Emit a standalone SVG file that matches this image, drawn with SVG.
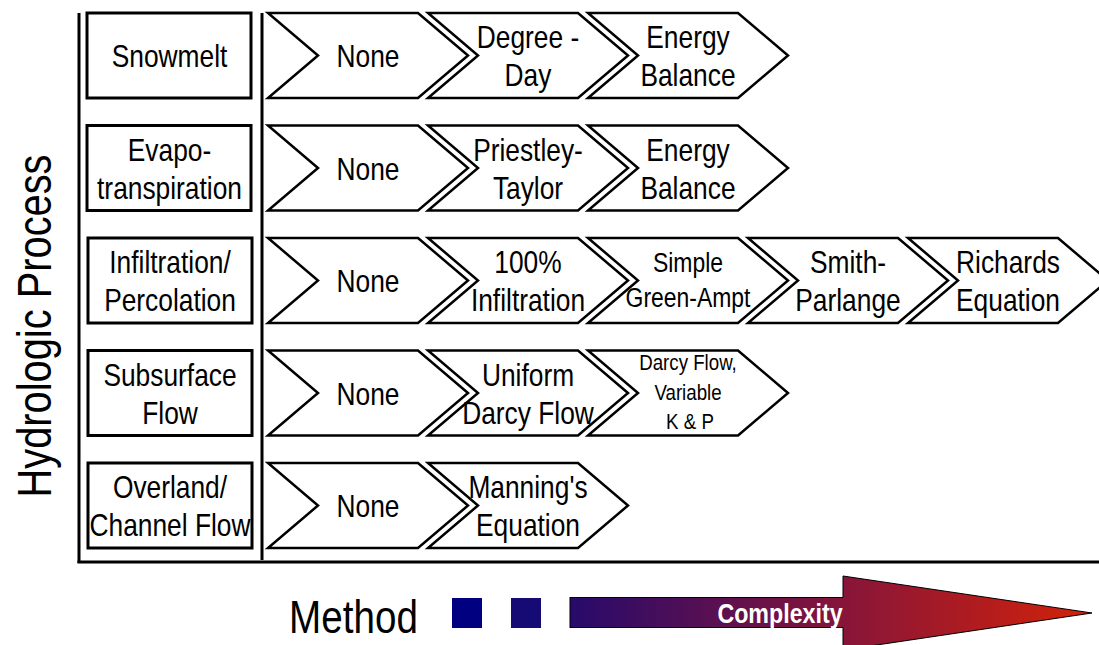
<svg xmlns="http://www.w3.org/2000/svg" xmlns:xlink="http://www.w3.org/1999/xlink" width="1099" height="645" viewBox="0 0 1099 645">
<style>
.t{font-family:"Liberation Sans",Arial,sans-serif;font-size:31px;fill:#000;text-anchor:middle}
.s{font-size:27px}
.xs{font-size:22px}
.box{fill:#fff;stroke:#000;stroke-width:3}
.chev{fill:#fff;stroke:#000;stroke-width:2.5;stroke-linejoin:miter}
.axis{stroke:#000;stroke-width:3;fill:none}
</style>
<defs>
<path id="chev" d="M0,0 H150 L200,42.5 L150,85 H0 L50,42.5 Z"/>
<linearGradient id="cg" gradientUnits="userSpaceOnUse" x1="570" y1="0" x2="1092" y2="0">
<stop offset="0" stop-color="#270a6b"/>
<stop offset="0.52" stop-color="#86153a"/>
<stop offset="1" stop-color="#d42208"/>
</linearGradient>
</defs>
<rect width="1099" height="645" fill="#fff"/>
<g id="axes">
<line class="axis" x1="79" y1="13" x2="79" y2="563"/>
<line class="axis" x1="77.5" y1="562" x2="1099" y2="562"/>
<line class="axis" x1="262" y1="13" x2="262" y2="560"/>
</g>
<g id="connectors"></g>
<g id="ylabel"><text class="t" style="font-size:48px" transform="translate(51,326) rotate(-90) scale(0.83,1)">Hydrologic Process</text></g>

<g id="row-snowmelt">
<rect class="box" x="87" y="13" width="164" height="85"/>
<text class="t" transform="translate(169.5,67) scale(0.85,1)">Snowmelt</text>
</g>
<g id="snow-none"><use href="#chev" xlink:href="#chev" class="chev" x="268" y="13"/><text class="t" transform="translate(368,67) scale(0.85,1)">None</text></g>
<g id="snow-degree"><use href="#chev" xlink:href="#chev" class="chev" x="428" y="13"/><text class="t" transform="translate(528,48) scale(0.85,1)">Degree -</text><text class="t" transform="translate(528,86) scale(0.85,1)">Day</text></g>
<g id="snow-energy"><use href="#chev" xlink:href="#chev" class="chev" x="588" y="13"/><text class="t" transform="translate(688,48) scale(0.85,1)">Energy</text><text class="t" transform="translate(688,86) scale(0.85,1)">Balance</text></g>

<g id="row-evapo">
<rect class="box" x="87" y="125.5" width="164" height="85"/>
<text class="t" transform="translate(169.5,160.5) scale(0.85,1)">Evapo-</text>
<text class="t" transform="translate(169.5,198.5) scale(0.85,1)">transpiration</text>
</g>
<g id="evapo-none"><use href="#chev" xlink:href="#chev" class="chev" x="268" y="125.5"/><text class="t" transform="translate(368,179.5) scale(0.85,1)">None</text></g>
<g id="evapo-pt"><use href="#chev" xlink:href="#chev" class="chev" x="428" y="125.5"/><text class="t" transform="translate(528,160.5) scale(0.85,1)">Priestley-</text><text class="t" transform="translate(528,198.5) scale(0.85,1)">Taylor</text></g>
<g id="evapo-energy"><use href="#chev" xlink:href="#chev" class="chev" x="588" y="125.5"/><text class="t" transform="translate(688,160.5) scale(0.85,1)">Energy</text><text class="t" transform="translate(688,198.5) scale(0.85,1)">Balance</text></g>

<g id="row-infil">
<rect class="box" x="88" y="238" width="164" height="85"/>
<text class="t" transform="translate(170,273) scale(0.85,1)">Infiltration/</text>
<text class="t" transform="translate(170,311) scale(0.85,1)">Percolation</text>
</g>
<g id="infil-none"><use href="#chev" xlink:href="#chev" class="chev" x="268" y="238"/><text class="t" transform="translate(368,292) scale(0.85,1)">None</text></g>
<g id="infil-100"><use href="#chev" xlink:href="#chev" class="chev" x="428" y="238"/><text class="t" transform="translate(528,273) scale(0.85,1)">100%</text><text class="t" transform="translate(528,311) scale(0.85,1)">Infiltration</text></g>
<g id="infil-ga"><use href="#chev" xlink:href="#chev" class="chev" x="588" y="238"/><text class="t s" transform="translate(688,272) scale(0.85,1)">Simple</text><text class="t s" transform="translate(688,307) scale(0.85,1)">Green-Ampt</text></g>
<g id="infil-sp"><use href="#chev" xlink:href="#chev" class="chev" x="748" y="238"/><text class="t" transform="translate(848,273) scale(0.85,1)">Smith-</text><text class="t" transform="translate(848,311) scale(0.85,1)">Parlange</text></g>
<g id="infil-rich"><use href="#chev" xlink:href="#chev" class="chev" x="908" y="238"/><text class="t" transform="translate(1008,273) scale(0.85,1)">Richards</text><text class="t" transform="translate(1008,311) scale(0.85,1)">Equation</text></g>

<g id="row-subsurface">
<rect class="box" x="88" y="350.5" width="164" height="85"/>
<text class="t" transform="translate(170,385.5) scale(0.85,1)">Subsurface</text>
<text class="t" transform="translate(170,423.5) scale(0.85,1)">Flow</text>
</g>
<g id="sub-none"><use href="#chev" xlink:href="#chev" class="chev" x="268" y="350.5"/><text class="t" transform="translate(368,404.5) scale(0.85,1)">None</text></g>
<g id="sub-uniform"><use href="#chev" xlink:href="#chev" class="chev" x="428" y="350.5"/><text class="t" transform="translate(528,385.5) scale(0.85,1)">Uniform</text><text class="t" transform="translate(528,423.5) scale(0.85,1)">Darcy Flow</text></g>
<g id="sub-variable"><use href="#chev" xlink:href="#chev" class="chev" x="588" y="350.5"/><text class="t xs" transform="translate(688,370) scale(0.85,1)">Darcy Flow,</text><text class="t xs" transform="translate(688,399.5) scale(0.85,1)">Variable</text><text class="t xs" transform="translate(690,428.5) scale(0.85,1)">K &amp; P</text></g>

<g id="row-overland">
<rect class="box" x="88" y="463" width="164" height="85"/>
<text class="t" transform="translate(170,498) scale(0.85,1)">Overland/</text>
<text class="t" transform="translate(170,536) scale(0.85,1)">Channel Flow</text>
</g>
<g id="over-none"><use href="#chev" xlink:href="#chev" class="chev" x="268" y="463"/><text class="t" transform="translate(368,517) scale(0.85,1)">None</text></g>
<g id="over-manning"><use href="#chev" xlink:href="#chev" class="chev" x="428" y="463"/><text class="t" transform="translate(528,498) scale(0.85,1)">Manning's</text><text class="t" transform="translate(528,536) scale(0.85,1)">Equation</text></g>

<g id="method">
<text class="t" style="font-size:46px" transform="translate(353.5,633) scale(0.84,1)">Method</text>
<rect x="452" y="598" width="30" height="30" fill="#000080"/>
<rect x="511" y="598" width="30" height="30" fill="#160a74"/>
</g>
<g id="complexity">
<rect x="570" y="597.5" width="275" height="30" fill="url(#cg)" stroke="#000" stroke-width="1"/>
<text class="t" style="font-size:28px;font-weight:bold;fill:#fff" transform="translate(780,623) scale(0.83,1)">Complexity</text>
<path d="M843,597.5 V576 L1092,613 L843,650 V627.5" fill="url(#cg)" stroke="#000" stroke-width="1"/>
</g>
</svg>
